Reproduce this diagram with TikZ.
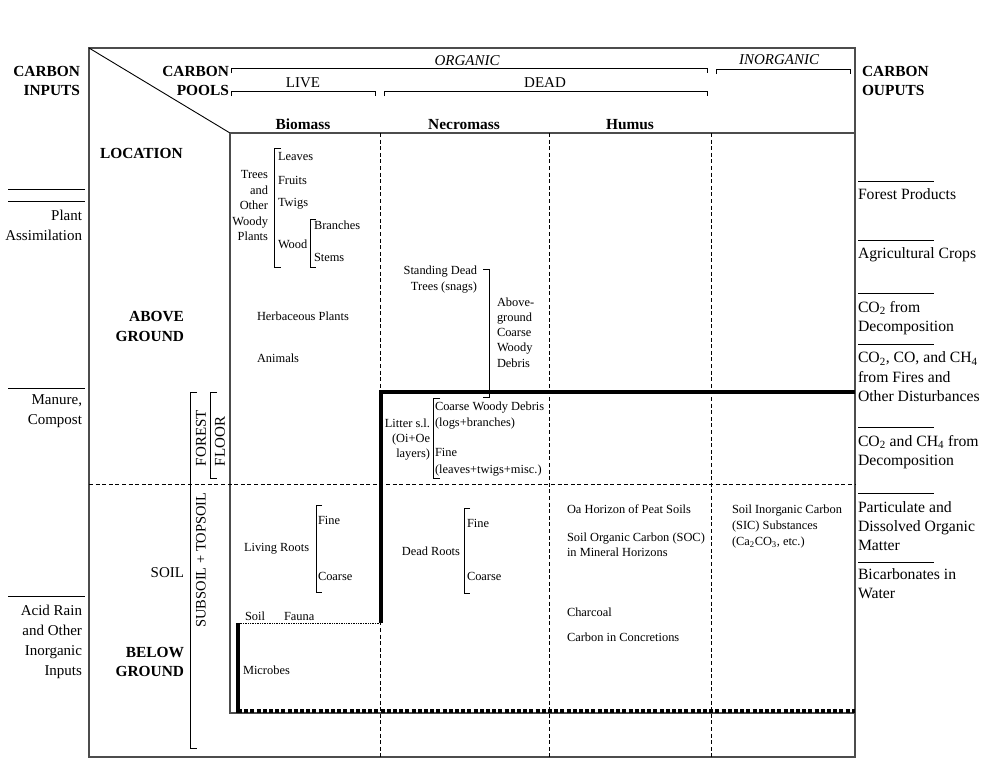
\documentclass[tikz,border=0pt]{standalone}
\usepackage{fontspec}
\setmainfont{Liberation Serif}
\newcommand\myBig{\fontsize{15}{19.5}\selectfont}
\newcommand\myOut{\fontsize{15.7}{19.5}\selectfont}
\newcommand\mySmall{\fontsize{12.4}{15.5}\selectfont}
\begin{document}
\begin{tikzpicture}[x=1pt,y=-1pt,
  boxline/.style={draw=black!70,line width=1.1pt},
  plainline/.style={draw=black,line width=0.9pt},
  divider/.style={draw=black,line width=0.9pt,dash pattern=on 4pt off 2.6pt},
  thickline/.style={draw=black,line width=3.6pt},
  thickdots/.style={draw=black,line width=3.6pt,dash pattern=on 4pt off 2.2pt},
  finedots/.style={draw=black,line width=0.8pt,dash pattern=on 1.4pt off 1pt},
  brk/.style={draw=black,line width=0.9pt},
  every node/.style={inner sep=0pt,outer sep=0pt},
  bigtxt/.style={font=\myBig},
  outtxt/.style={font=\myOut},
  bighdr/.style={font=\fontsize{15.4}{19}\selectfont\bfseries},
  smalltxt/.style={font=\mySmall}]
\useasboundingbox (0,0) rectangle (1000,760);
% frames
\draw[boxline] (89,48) rectangle (855,757);
\draw[plainline] (89,48) -- (230,133);
\draw[boxline] (230,133) -- (855,133);
\draw[boxline] (230,133) -- (230,713) -- (855,713);
% column dividers
\draw[divider] (380,133) -- (380,757);
\draw[divider] (549,133) -- (549,757);
\draw[divider] (711,133) -- (711,757);
\draw[divider] (89,484) -- (855,484);
% thick boundaries
\draw[thickline] (855,392) -- (381,392) -- (381,623);
\draw[finedots] (381,623) -- (238,623);
\draw[thickline] (238,623) -- (238,713);
\draw[thickdots] (238,711) -- (855,711);
% header brackets
\draw[brk] (231,73) -- (231,68) -- (707,68) -- (707,73);
\draw[brk] (716,74) -- (716,69) -- (850,69) -- (850,74);
\draw[brk] (231,96) -- (231,91) -- (375,91) -- (375,96);
\draw[brk] (384,96) -- (384,91) -- (707,91) -- (707,96);
\node[font=\myBig\itshape,anchor=base] (organic) at (467,65) {ORGANIC};
\node[font=\myBig\itshape,anchor=base] (inorganic) at (779,64) {INORGANIC};
\node[bigtxt,anchor=base] (live) at (303,87) {LIVE};
\node[bigtxt,anchor=base] (dead) at (545,87) {DEAD};
\node[bighdr,anchor=base] (biomass) at (303,129) {Biomass};
\node[bighdr,anchor=base] (necromass) at (464,129) {Necromass};
\node[bighdr,anchor=base] (humus) at (630,129) {Humus};
\node[bighdr,anchor=north east,align=right] (inputs) at (80,66) {CARBON\\INPUTS};
\node[bighdr,anchor=north east,align=right] (pools) at (229,66) {CARBON\\POOLS};
\node[bighdr,anchor=north west,align=left] (outputs) at (862,66) {CARBON\\OUPUTS};
% left column
\node[bighdr,anchor=base west] (location) at (100,158) {LOCATION};
\node[bighdr,anchor=north east,align=right,font=\fontsize{15.4}{20}\selectfont\bfseries] (above) at (184,311) {ABOVE\\GROUND};
\node[bigtxt,anchor=base east] (soil) at (184,577) {SOIL};
\node[bighdr,anchor=north east,align=right,font=\fontsize{15.4}{19.5}\selectfont\bfseries] (below) at (184,647) {BELOW\\GROUND};
% inputs
\draw[plainline] (8,189) -- (85,189);
\draw[plainline] (8,201) -- (85,201);
\draw[plainline] (8,388) -- (85,388);
\draw[plainline] (8,596) -- (85,596);
\node[bigtxt,anchor=north east,align=right,font=\fontsize{15}{20}\selectfont] (plant) at (82,210) {Plant\\Assimilation};
\node[bigtxt,anchor=north east,align=right,font=\fontsize{15}{20}\selectfont] (manure) at (82,395) {Manure,\\Compost};
\node[bigtxt,anchor=north east,align=right,font=\fontsize{15}{20}\selectfont] (acid) at (82,605) {Acid Rain\\and Other\\Inorganic\\Inputs};
% forest floor / soil brackets
\draw[brk] (197,392) -- (190,392) -- (190,748) -- (197,748);
\draw[brk] (217,392) -- (210,392) -- (210,478) -- (217,478);
\node[bigtxt,anchor=north west,align=left,rotate=90,font=\fontsize{15}{19}\selectfont] (forest) at (196,466) {FOREST\\FLOOR};
\node[bigtxt,rotate=90,font=\fontsize{14.5}{19}\selectfont] (subsoil) at (201,560) {SUBSOIL + TOPSOIL};
% outputs
\draw[plainline] (858,181) -- (934,181);
\draw[plainline] (858,240) -- (934,240);
\draw[plainline] (858,293) -- (934,293);
\draw[plainline] (858,344) -- (934,344);
\draw[plainline] (858,427) -- (934,427);
\draw[plainline] (858,493) -- (934,493);
\draw[plainline] (858,562) -- (934,562);
\node[outtxt,anchor=base west] (forestprod) at (858,199) {Forest Products};
\node[outtxt,anchor=base west] (agri) at (858,258) {Agricultural Crops};
\node[outtxt,anchor=north west,align=left,font=\fontsize{15.7}{19}\selectfont] (coa) at (858,301) {CO\textsubscript{2} from\\Decomposition};
\node[outtxt,anchor=north west,align=left,font=\fontsize{15.7}{19.5}\selectfont] (cob) at (858,352) {CO\textsubscript{2}, CO, and CH\textsubscript{4}\\from Fires and\\Other Disturbances};
\node[outtxt,anchor=north west,align=left,font=\fontsize{15.7}{19}\selectfont] (coc) at (858,435) {CO\textsubscript{2} and CH\textsubscript{4} from\\Decomposition};
\node[outtxt,anchor=north west,align=left,font=\fontsize{15.7}{19}\selectfont] (partic) at (858,502) {Particulate and\\Dissolved Organic\\Matter};
\node[outtxt,anchor=north west,align=left,font=\fontsize{15.7}{19}\selectfont] (bicarb) at (858,569) {Bicarbonates in\\Water};
% biomass above ground
\draw[brk] (281,148) -- (274,148) -- (274,267) -- (281,267);
\draw[brk] (316,219) -- (310,219) -- (310,267) -- (316,267);
\node[smalltxt,anchor=north east,align=right] (trees) at (268,170.6) {Trees\\and\\Other\\Woody\\Plants};
\node[smalltxt,anchor=base west] (leaves) at (278,160) {Leaves};
\node[smalltxt,anchor=base west] (fruits) at (278,184) {Fruits};
\node[smalltxt,anchor=base west] (twigs) at (278,206) {Twigs};
\node[smalltxt,anchor=base west] (wood) at (278,248) {Wood};
\node[smalltxt,anchor=base west] (branches) at (314,229) {Branches};
\node[smalltxt,anchor=base west] (stems) at (314,261) {Stems};
\node[smalltxt,anchor=base west] (herb) at (257,320) {Herbaceous Plants};
\node[smalltxt,anchor=base west] (animals) at (257,362) {Animals};
% necromass
\draw[brk] (483,269) -- (489,269) -- (489,397) -- (483,397);
\node[smalltxt,anchor=north east,align=right,font=\fontsize{12.4}{16}\selectfont] (standing) at (477,265.6) {Standing Dead\\Trees (snags)};
\node[smalltxt,anchor=north west,align=left,font=\fontsize{12.4}{15.2}\selectfont] (agcwd) at (497,297.6) {Above-\\ground\\Coarse\\Woody\\Debris};
\draw[brk] (440,398) -- (433,398) -- (433,478) -- (440,478);
\node[smalltxt,anchor=north west,align=left,font=\fontsize{12.4}{16}\selectfont] (cwd) at (435,401.6) {Coarse Woody Debris\\(logs+branches)};
\node[smalltxt,anchor=north west,align=left,font=\fontsize{12.4}{17}\selectfont] (fine) at (435,448.6) {Fine\\(leaves+twigs+misc.)};
\node[smalltxt,anchor=north east,align=right,font=\fontsize{12.4}{15}\selectfont] (litter) at (430,418.6) {Litter s.l.\\(Oi+Oe\\layers)};
% roots
\draw[brk] (322,505) -- (316,505) -- (316,592) -- (322,592);
\node[smalltxt,anchor=base west] (living) at (244,551) {Living Roots};
\node[smalltxt,anchor=base west] (lfine) at (318,524) {Fine};
\node[smalltxt,anchor=base west] (lcoarse) at (318,580) {Coarse};
\draw[brk] (470,508) -- (464,508) -- (464,593) -- (470,593);
\node[smalltxt,anchor=base east] (deadroots) at (460,555) {Dead Roots};
\node[smalltxt,anchor=base west] (dfine) at (467,527) {Fine};
\node[smalltxt,anchor=base west] (dcoarse) at (467,580) {Coarse};
\node[smalltxt,anchor=base west] (soilf) at (245,620) {Soil};
\node[smalltxt,anchor=base west] (fauna) at (284,620) {Fauna};
\node[smalltxt,anchor=base west] (microbes) at (243,674) {Microbes};
% humus
\node[smalltxt,anchor=base west] (oa) at (567,513) {Oa Horizon of Peat Soils};
\node[smalltxt,anchor=north west,align=left,font=\fontsize{12.4}{15}\selectfont] (soc) at (567,532.6) {Soil Organic Carbon (SOC)\\in Mineral Horizons};
\node[smalltxt,anchor=base west] (charcoal) at (567,616) {Charcoal};
\node[smalltxt,anchor=base west] (concretions) at (567,641) {Carbon in Concretions};
% inorganic
\node[smalltxt,anchor=north west,align=left,font=\fontsize{12.4}{16}\selectfont] (sic) at (732,504.6) {Soil Inorganic Carbon\\(SIC) Substances\\(Ca\textsubscript{2}CO\textsubscript{3}, etc.)};
\end{tikzpicture}
\end{document}
